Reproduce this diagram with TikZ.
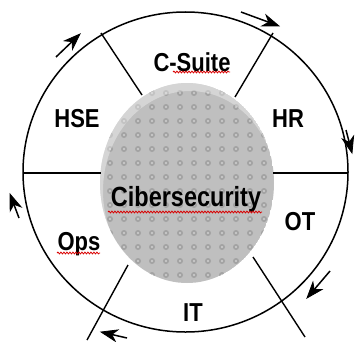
\documentclass[tikz,border=0pt]{standalone}
\usepackage{fontspec}
\setmainfont{Liberation Sans}
\usetikzlibrary{arrows.meta,decorations.pathmorphing,calc}
\newcommand{\tallt}[1]{\scalebox{1}[1.18]{#1}}
\begin{document}
\begin{tikzpicture}[x=1pt,y=1pt,
  lbl/.style={font=\fontsize{22}{24}\selectfont\bfseries, inner sep=0pt},
  biglbl/.style={font=\fontsize{23.5}{26}\selectfont\bfseries, inner sep=0pt},
  ring/.style={line width=1.5pt, black},
  spoke/.style={line width=1.4pt, black},
  cwarrow/.style={line width=1.5pt},
  cwhead/.style={fill=black, draw=black, line width=0.8pt, line join=miter},
  squig/.style={red!85!black, line width=0.8pt, decorate,
     decoration={snake, amplitude=0.9pt, segment length=3pt}}]
\useasboundingbox (0,0) rectangle (355,341);
% outer ring
\coordinate (O) at (185.5,169);
\draw[ring] (O) ellipse [x radius=162.5, y radius=160];
% central disc
\coordinate (D) at (187,158);
\begin{scope}
  \clip (D) ellipse [x radius=87, y radius=100];
  \fill[black!28] (D) ellipse [x radius=87, y radius=100];
  \foreach \i in {0,...,13} {
    \foreach \j in {0,...,15} {
      \fill[black!40] (96+\i*14, 52+\j*14) circle (3.0);
      \fill[black!20] (96+\i*14, 52+\j*14) circle (1.2);
    }
  }
  \fill[white, opacity=0.10] (D) ellipse [x radius=87, y radius=100];
  \fill[white, opacity=0.35, even odd rule]
     (D) ellipse [x radius=87, y radius=100]
     (190,150) ellipse [x radius=87, y radius=100];
\end{scope}
% spokes
\coordinate (s1a) at (101,308); \coordinate (s1b) at (142,246);
\coordinate (s2a) at (273,308); \coordinate (s2b) at (235,244);
\coordinate (s3a) at (23,168); \coordinate (s3b) at (101,168);
\coordinate (s4a) at (273,168); \coordinate (s4b) at (348,168);
\coordinate (s5a) at (128,76); \coordinate (s5b) at (87,1);
\coordinate (s6a) at (253,84); \coordinate (s6b) at (305,4);
\draw[spoke] (s1a) -- (s1b);
\draw[spoke] (s2a) -- (s2b);
\draw[spoke] (s3a) -- (s3b);
\draw[spoke] (s4a) -- (s4b);
\draw[spoke] (s5a) -- (s5b);
\draw[spoke] (s6a) -- (s6b);
% rotation arrows (clockwise), heads drawn as barbed triangles
\coordinate (a1t) at (241,329); \coordinate (a1h) at (279,315);
\coordinate (a2t) at (56,284);  \coordinate (a2h) at (80,307);
\coordinate (a3t) at (346,211); \coordinate (a3h) at (352,188);
\coordinate (a4t) at (330,70);  \coordinate (a4h) at (307,43);
\coordinate (a5t) at (127,3);   \coordinate (a5h) at (101,9);
\coordinate (a6t) at (19,123);  \coordinate (a6h) at (10,147);
\foreach \t/\h in {a1t/a1h, a2t/a2h, a3t/a3h, a4t/a4h, a5t/a5h, a6t/a6h} {
  \draw[cwarrow] (\t) -- ($(\h)!8pt!(\t)$);
  \path[cwhead] (\h) -- ($(\h)!17pt!20:(\t)$) -- ($(\h)!11pt!(\t)$)
     -- ($(\h)!17pt!-20:(\t)$) -- cycle;
}
% labels
\node[lbl] (cs) at (192,279) {\tallt{C-Suite}};
\node[lbl] (hse) at (77,222) {\tallt{HSE}};
\node[lbl] (hr) at (288,222) {\tallt{HR}};
\node[biglbl] (cy) at (186,142) {\tallt{Cibersecurity}};
\node[lbl, anchor=base] (ot) at (300,111) {\tallt{OT}};
\node[lbl, anchor=base] (ops) at (79,91) {\tallt{Ops}};
\node[lbl] (it) at (193,28) {\tallt{IT}};
% spell-check underlines
\draw[squig] (173,269) -- (230,269);
\draw[squig] (108,129) -- (262,129);
\draw[squig] (57,88) -- (100,88);
\end{tikzpicture}
\end{document}
